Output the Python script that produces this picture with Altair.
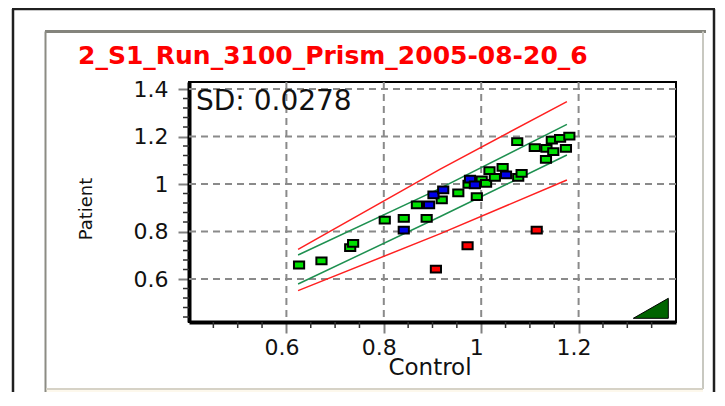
import altair as alt
import pandas as pd

# ---------------- texts ----------------
title_text = "2_S1_Run_3100_Prism_2005-08-20_6"
sd_text = "SD: 0.0278"
x_title = "Control"
y_title = "Patient"

# ---------------- ticks ----------------
x_major = [0.6, 0.8, 1.0, 1.2]
y_major = [0.6, 0.8, 1.0, 1.2, 1.4]
x_minor = [0.45, 0.5, 0.55, 0.65, 0.7, 0.75, 0.85, 0.9, 0.95,
           1.05, 1.1, 1.15, 1.25, 1.3, 1.35]
y_minor = [0.44, 0.48, 0.52, 0.56, 0.64, 0.68, 0.72, 0.76, 0.84, 0.88,
           0.92, 0.96, 1.04, 1.08, 1.12, 1.16, 1.24, 1.28, 1.32, 1.36]

# ---------------- points ----------------
green_x = [0.626, 0.672, 0.731, 0.737, 0.802, 0.841, 0.888, 0.868, 0.919, 0.953,
           0.974, 0.991, 1.001, 1.010, 1.017, 1.028, 1.044, 1.076, 1.083, 1.074,
           1.110, 1.134, 1.145, 1.162, 1.181, 1.148, 1.174, 1.133]
green_y = [0.659, 0.676, 0.732, 0.750, 0.848, 0.855, 0.855, 0.912, 0.933, 0.963,
           0.999, 0.947, 1.017, 1.003, 1.056, 1.028, 1.070, 1.028, 1.045, 1.178,
           1.153, 1.150, 1.185, 1.192, 1.202, 1.136, 1.150, 1.104]
blue_x = [0.841, 0.893, 0.902, 0.922, 0.977, 0.987, 1.051]
blue_y = [0.806, 0.912, 0.954, 0.975, 1.021, 0.996, 1.038]
red_x = [0.907, 0.972, 1.114]
red_y = [0.642, 0.740, 0.806]

# ---------------- limit lines ----------------
upper_red_x = [0.624, 0.915, 1.176]
upper_red_y = [0.725, 1.062, 1.347]
upper_green_x = [0.624, 0.905, 1.176]
upper_green_y = [0.701, 0.971, 1.251]
lower_green_x = [0.624, 0.915, 1.176]
lower_green_y = [0.579, 0.862, 1.122]
lower_red_x = [0.624, 0.915, 1.176]
lower_red_y = [0.551, 0.790, 1.017]

# ---------------- tables ----------------
pts = pd.concat([
    pd.DataFrame({"x": green_x, "y": green_y, "cat": "green"}),
    pd.DataFrame({"x": blue_x, "y": blue_y, "cat": "blue"}),
    pd.DataFrame({"x": red_x, "y": red_y, "cat": "red"}),
], ignore_index=True)

lines = pd.concat([
    pd.DataFrame({"x": upper_red_x, "y": upper_red_y, "s": "upper_red"}),
    pd.DataFrame({"x": upper_green_x, "y": upper_green_y, "s": "upper_green"}),
    pd.DataFrame({"x": lower_green_x, "y": lower_green_y, "s": "lower_green"}),
    pd.DataFrame({"x": lower_red_x, "y": lower_red_y, "s": "lower_red"}),
], ignore_index=True)

W, H = 487, 240
PL, PT, PR, PB = 181, 74, 40, 70

xs = alt.Scale(domain=[0.4, 1.4], nice=False, zero=False)
ys = alt.Scale(domain=[0.419, 1.4295], nice=False, zero=False)

common_axis = dict(title=None, grid=False, tickSize=11, tickColor="#808080",
                   tickWidth=2, domainColor="black", domainWidth=4,
                   labelFont="DejaVu Sans", labelFontSize=22, labelColor="#111111",
                   format="~g", labelOverlap=False, labelFlush=False)
xaxis = alt.Axis(values=x_major, labelPadding=4, labelOffset=-5, **common_axis)
yaxis = alt.Axis(values=y_major, labelPadding=10, **common_axis)

X = lambda: alt.X("x:Q", scale=xs, axis=xaxis)
Y = lambda: alt.Y("y:Q", scale=ys, axis=yaxis)

one = pd.DataFrame({"a": [0]})

def rule(x, x2, y, y2, color, width):
    return alt.Chart(one).mark_rule(color=color, strokeWidth=width).encode(
        x=alt.value(x), x2=alt.value(x2), y=alt.value(y), y2=alt.value(y2))

# decorations (window frame / sunken panel)
deco = [
    alt.Chart(one).mark_rect(color="#fdf8ec").encode(
        x=alt.value(-143), x2=alt.value(514), y=alt.value(308), y2=alt.value(330)),
    rule(-176, -176, -73, 330, "#202020", 2.5),
    rule(-177, 526, -73, -73, "#202020", 2.5),
    rule(525, 525, -73, 330, "#202020", 2.5),
    rule(-144, 517, -50.5, -50.5, "#84847c", 3),
    rule(-143.5, -143.5, -50.5, 311, "#8c8c84", 2),
    rule(514, 514, -50.5, 307, "#c8c8c0", 2),
    rule(-143, 514, 307, 307, "#d6d2c6", 2),
]

xgrid = alt.Chart(pd.DataFrame({"x": x_major})).mark_rule(
    color="#8a8a8a", strokeWidth=2, strokeDash=[7, 5]).encode(x=X())
ygrid = alt.Chart(pd.DataFrame({"y": y_major})).mark_rule(
    color="#8a8a8a", strokeWidth=2, strokeDash=[7, 5]).encode(y=Y())

xminor = alt.Chart(pd.DataFrame({"x": x_minor})).mark_rule(
    color="#303030", strokeWidth=1.5).encode(x=X(), y=alt.value(H), y2=alt.value(H + 6))
yminor = alt.Chart(pd.DataFrame({"y": y_minor})).mark_rule(
    color="#303030", strokeWidth=1.5).encode(y=Y(), x=alt.value(-6), x2=alt.value(0))

line_layer = alt.Chart(lines).mark_line(strokeWidth=1.5).encode(
    x=X(), y=Y(), detail="s:N",
    color=alt.Color("s:N", legend=None, scale=alt.Scale(
        domain=["upper_red", "upper_green", "lower_green", "lower_red"],
        range=["#ff2020", "#1e9050", "#1e9050", "#ff2020"])))

point_layer = alt.Chart(pts).mark_point(
    shape="M-1.5,-1H1.5V1H-1.5Z", filled=True, size=46, stroke="black",
    strokeWidth=2, opacity=1).encode(
    x=X(), y=Y(),
    fill=alt.Fill("cat:N", legend=None, scale=alt.Scale(
        domain=["green", "blue", "red"], range=["#00e000", "#0000e8", "#ff0000"])))

triangle = alt.Chart(one).mark_point(
    shape="M-1.75,1L1.75,1L1.75,-1Z", filled=True, fill="#006400", stroke="black",
    strokeWidth=1, size=400, opacity=1).encode(x=alt.value(461.8), y=alt.value(226.3))

def text(t, x, y, **kw):
    return alt.Chart(pd.DataFrame({"t": [t]})).mark_text(**kw).encode(
        text="t:N", x=alt.value(x), y=alt.value(y))

texts = [
    text(title_text, -111, -18, font="DejaVu Sans", fontSize=25, fontWeight="bold",
         color="#ff0000", align="left", baseline="alphabetic"),
    text(sd_text, 7, 28, font="DejaVu Sans", fontSize=28, color="#111111",
         align="left", baseline="alphabetic"),
    text(x_title, 241, 293, font="DejaVu Sans", fontSize=23, color="#111111",
         align="center", baseline="alphabetic"),
    text(y_title, -102, 127, font="DejaVu Sans", fontSize=18, color="#111111",
         align="center", baseline="middle", angle=270),
]

chart = alt.layer(
    *deco, xgrid, ygrid, xminor, yminor, line_layer, point_layer, triangle, *texts
).properties(
    width=W, height=H,
    autosize=alt.AutoSizeParams(type="none"),
    padding={"left": PL, "top": PT, "right": PR, "bottom": PB},
    background="white",
).configure_view(stroke="black", strokeWidth=2)

chart.save("out.html", embed_options={"renderer": "svg", "actions": False})
